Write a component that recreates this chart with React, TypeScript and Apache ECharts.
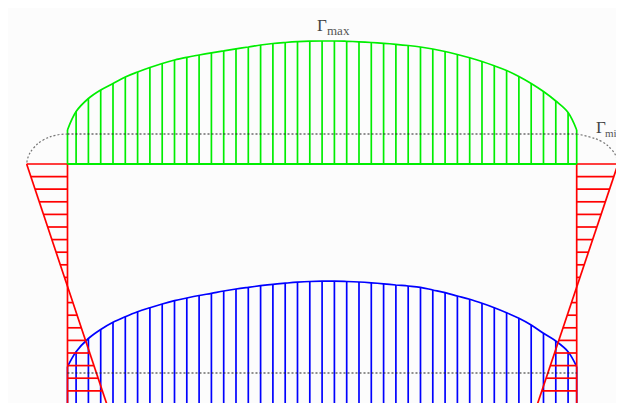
import React, { useEffect, useRef } from "react";
import * as echarts from "echarts";

// Beam ends and hatch stations (x units)
const beamEnds = [0, 41.4];
const stations = [
  0.7, 1.7, 2.7, 3.7, 4.7, 5.7, 6.7, 7.7, 8.7, 9.7, 10.7, 11.7, 12.7, 13.7,
  14.7, 15.7, 16.7, 17.7, 18.7, 19.7, 20.7, 21.7, 22.7, 23.7, 24.7, 25.7,
  26.7, 27.7, 28.7, 29.7, 30.7, 31.7, 32.7, 33.7, 34.7, 35.7, 36.7, 37.7,
  38.7, 39.7, 40.7,
];

// Upper (green, Γmax) diagram
const gammaMaxTop = [
  5.25, 6.55, 7.4, 8.05, 8.7, 9.2, 9.65, 10.05, 10.4, 10.67, 10.9, 11.12,
  11.32, 11.52, 11.7, 11.9, 12.05, 12.15, 12.23, 12.28, 12.3, 12.3, 12.27,
  12.22, 12.15, 12.07, 11.97, 11.85, 11.7, 11.5, 11.25, 10.95, 10.62, 10.25,
  9.82, 9.35, 8.75, 8.05, 7.25, 6.3, 5.15,
];
const gammaMaxEdge = 3.4;
const upperBase = 0;
const upperDottedY = 3.0;

// Lower (blue) diagram
const lowerTop = [
  -18.77, -17.45, -16.55, -15.83, -15.27, -14.77, -14.37, -14.0, -13.67,
  -13.4, -13.15, -12.93, -12.7, -12.5, -12.33, -12.17, -12.03, -11.92,
  -11.82, -11.75, -11.72, -11.72, -11.75, -11.8, -11.88, -11.98, -12.1,
  -12.2, -12.33, -12.6, -12.87, -13.2, -13.53, -13.93, -14.37, -14.87,
  -15.43, -16.1, -16.93, -17.7, -18.77,
];
const lowerEdge = -20.27;
const lowerBase = -24.5;
const lowerDottedY = -20.9;

// Γmin dotted end curves
const gammaMinLeft = [
  [0, 3.0], [-0.88, 2.9], [-1.97, 2.4], [-2.78, 1.57], [-3.19, 0.73], [-3.32, 0],
];
const gammaMinRight = [
  [41.4, 3.0], [42.37, 2.73], [43.46, 2.23], [44.27, 1.4], [44.67, 0.57], [44.76, 0],
];

// Red end diagrams
const redLeft = [[-3.32, 0], [3.3, -24.4]];
const redRight = [[44.76, 0], [38.1, -24.4]];
const redHatchY = [
  0, -1.26, -2.52, -3.78, -5.04, -6.3, -7.56, -8.82, -10.08, -11.34, -12.6,
  -13.86, -15.12, -16.38, -17.64, -18.9, -20.16, -21.42, -22.68,
];

const GREEN = "#00ee00";
const BLUE = "#0000ff";
const RED = "#ff0000";
const LW = 1.7;

function xOnLine(line: number[][], y: number) {
  const [x0, y0] = line[0];
  const [x1, y1] = line[1];
  return x0 + ((y - y0) * (x1 - x0)) / (y1 - y0);
}

const vRender = (color: string, w: number) => (params: any, api: any) => {
  const a = api.coord([api.value(0), api.value(1)]);
  const b = api.coord([api.value(0), api.value(2)]);
  return {
    type: "line",
    shape: { x1: a[0], y1: a[1], x2: b[0], y2: b[1] },
    style: { stroke: color, lineWidth: w },
  };
};
const hRender = (color: string, w: number) => (params: any, api: any) => {
  const a = api.coord([api.value(0), api.value(2)]);
  const b = api.coord([api.value(1), api.value(2)]);
  return {
    type: "line",
    shape: { x1: a[0], y1: a[1], x2: b[0], y2: b[1] },
    style: { stroke: color, lineWidth: w },
  };
};

export default function App() {
  const ref = useRef<HTMLDivElement>(null);
  useEffect(() => {
    document.documentElement.style.overflow = "hidden";
    document.body.style.overflow = "hidden";
    if (!ref.current) return;
    const chart = echarts.init(ref.current, undefined, { renderer: "svg" });
    const [x0, x1] = beamEnds;

    const upperCurve = [
      [x0, gammaMaxEdge],
      ...stations.map((x, i) => [x, gammaMaxTop[i]]),
      [x1, gammaMaxEdge],
    ];
    const upperHatch = upperCurve.map((p) => [p[0], upperBase, p[1]]);
    const lowerCurve = [
      [x0, lowerEdge],
      ...stations.map((x, i) => [x, lowerTop[i]]),
      [x1, lowerEdge],
    ];
    const lowerHatch = lowerCurve.map((p) => [p[0], lowerBase, p[1]]);
    const redHatch = [
      ...redHatchY.map((y) => [x0, xOnLine(redLeft, y), y]),
      ...redHatchY.map((y) => [xOnLine(redRight, y), x1, y]),
    ];

    const plain = (data: number[][], color: string, width: number, z: number, smooth: number | boolean = false) => ({
      type: "line",
      data,
      smooth,
      symbol: "none",
      clip: false,
      silent: true,
      lineStyle: { color, width },
      z,
    });
    const dotted = (data: number[][], color: string, smooth: number | boolean) => ({
      type: "line",
      data,
      smooth,
      symbol: "none",
      clip: false,
      silent: true,
      lineStyle: { color, width: 1.2, type: [2, 2] },
      z: 5,
    });

    const txt = (text: string, x: number, y: number, size: number, fill: string) => ({
      type: "text",
      x,
      y,
      z: 10,
      style: {
        text,
        font: `${size}px 'Liberation Serif', serif`,
        fill,
        verticalAlign: "top",
      },
    });

    chart.setOption({
      animation: false,
      backgroundColor: "#fcfcfc",
      grid: { left: 0, right: 0, top: 0, bottom: 0 },
      xAxis: { type: "value", min: -4.837, max: 45.246, show: false },
      yAxis: { type: "value", min: -23.9, max: 15.6, show: false },
      graphic: [
        txt("Γ", 309, 9, 17, "#444"),
        txt("max", 319, 16, 13, "#555"),
        txt("Γ", 588, 111, 17, "#444"),
        txt("min", 597, 119, 11, "#555"),
      ],
      series: [
        // lower blue diagram
        {
          type: "custom",
          data: lowerHatch,
          encode: { x: 0, y: [1, 2] },
          renderItem: vRender(BLUE, LW),
          clip: false,
          silent: true,
          z: 1,
        },
        plain(lowerCurve, BLUE, LW, 2, 0.35),
        // red end diagrams
        {
          type: "custom",
          data: redHatch,
          encode: { x: [0, 1], y: 2 },
          renderItem: hRender(RED, LW),
          clip: false,
          silent: true,
          z: 3,
        },
        plain(redLeft, RED, LW, 3),
        plain(redRight, RED, LW, 3),
        plain([[x0, upperBase], [x0, lowerBase]], RED, LW, 3),
        plain([[x1, upperBase], [x1, lowerBase]], RED, LW, 3),
        // upper green diagram
        {
          type: "custom",
          data: upperHatch,
          encode: { x: 0, y: [1, 2] },
          renderItem: vRender(GREEN, LW),
          clip: false,
          silent: true,
          z: 4,
        },
        plain(upperCurve, GREEN, LW, 4, 0.35),
        plain([[x0, upperBase], [x1, upperBase]], GREEN, 2, 4),
        // dotted lines
        dotted([[x0, upperDottedY], [x1, upperDottedY]], "#222", false),
        dotted([[x0, lowerDottedY], [x1, lowerDottedY]], "#222", false),
        dotted(gammaMinLeft, "#777", 0.4),
        dotted(gammaMinRight, "#777", 0.4),
      ],
    });
    return () => chart.dispose();
  }, []);
  return <div ref={ref} style={{ width: 616, height: 395 }} />;
}
